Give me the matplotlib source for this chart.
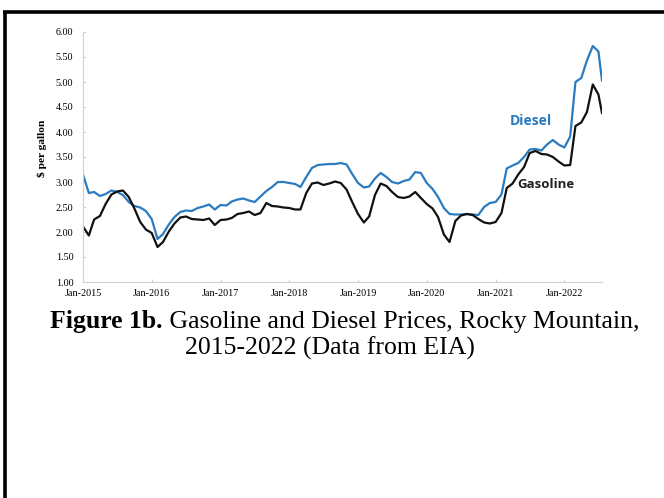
import matplotlib
matplotlib.use("Agg")
import matplotlib.pyplot as plt
import pandas as pd
from matplotlib.lines import Line2D
from matplotlib.font_manager import FontProperties

# ---- data (monthly, $ per gallon) ----
dates = list(pd.date_range("2015-01-01", "2022-07-01", freq="MS")) + [pd.Timestamp("2022-07-20")]

gasoline = [
    2.11, 1.93, 2.25, 2.32, 2.56, 2.75, 2.81, 2.83, 2.70, 2.47, 2.20, 2.05,   # 2015
    1.98, 1.70, 1.80, 2.01, 2.17, 2.29, 2.31, 2.26, 2.25, 2.24, 2.27, 2.14,   # 2016
    2.24, 2.25, 2.28, 2.36, 2.38, 2.41, 2.34, 2.38, 2.58, 2.52, 2.51, 2.49,   # 2017
    2.48, 2.45, 2.45, 2.78, 2.97, 2.99, 2.94, 2.97, 3.01, 2.98, 2.85, 2.60,   # 2018
    2.36, 2.19, 2.31, 2.74, 2.97, 2.92, 2.80, 2.70, 2.68, 2.71, 2.80, 2.68,   # 2019
    2.56, 2.47, 2.30, 1.95, 1.80, 2.22, 2.33, 2.36, 2.34, 2.26, 2.19, 2.17,   # 2020
    2.20, 2.38, 2.88, 2.97, 3.15, 3.30, 3.58, 3.62, 3.56, 3.55, 3.50, 3.41,   # 2021
    3.33, 3.34, 4.12, 4.19, 4.40, 4.95, 4.75, 4.38,                           # 2022
]
diesel = [
    3.15, 2.78, 2.80, 2.72, 2.76, 2.83, 2.80, 2.74, 2.60, 2.52, 2.49, 2.42,   # 2015
    2.26, 1.86, 1.96, 2.15, 2.30, 2.40, 2.43, 2.42, 2.48, 2.51, 2.55, 2.45,   # 2016
    2.54, 2.53, 2.61, 2.65, 2.67, 2.63, 2.60, 2.71, 2.82, 2.90, 3.00, 3.00,   # 2017
    2.98, 2.96, 2.90, 3.10, 3.28, 3.34, 3.35, 3.36, 3.36, 3.38, 3.35, 3.16,   # 2018
    2.98, 2.89, 2.91, 3.07, 3.18, 3.10, 3.00, 2.97, 3.02, 3.05, 3.20, 3.18,   # 2019
    2.98, 2.86, 2.70, 2.48, 2.36, 2.35, 2.35, 2.36, 2.35, 2.34, 2.50, 2.58,   # 2020
    2.60, 2.75, 3.27, 3.33, 3.38, 3.50, 3.65, 3.66, 3.63, 3.75, 3.84, 3.75,   # 2021
    3.69, 3.91, 5.00, 5.08, 5.43, 5.72, 5.61, 5.03,                           # 2022
]
tick_years = [2015, 2016, 2017, 2018, 2019, 2020, 2021, 2022]
tick_labels = [f"Jan-{y}" for y in tick_years]
y_ticks = [1.00, 1.50, 2.00, 2.50, 3.00, 3.50, 4.00, 4.50, 5.00, 5.50, 6.00]

BLUE = "#2b7bc0"
AXC = "#d0d0d0"
SERIF = ["Liberation Serif", "DejaVu Serif"]

fig = plt.figure(figsize=(6.64, 4.98), dpi=100)
ax = fig.add_axes([83 / 664, 1 - 282 / 498, (602 - 83) / 664, 250 / 498])

ax.plot(dates, diesel, color=BLUE, lw=1.6, solid_joinstyle="round")
ax.plot(dates, gasoline, color="#111111", lw=1.6, solid_joinstyle="round")

ax.set_ylim(1.0, 6.0)
ax.set_xlim(dates[0], dates[-1])
ax.set_yticks(y_ticks)
ax.set_yticklabels([f"{v:.2f}" for v in y_ticks], fontfamily=SERIF, fontsize=7.3)
ax.set_xticks([pd.Timestamp(f"{y}-01-01") for y in tick_years])
ax.set_xticklabels(tick_labels, fontfamily=SERIF, fontsize=7.3)
ax.tick_params(axis="both", direction="in", length=2.5, width=0.7, color=AXC)
ax.tick_params(axis="x", pad=5)
ax.tick_params(axis="y", pad=7)
for s in ["top", "right"]:
    ax.spines[s].set_visible(False)
for s in ["left", "bottom"]:
    ax.spines[s].set_color(AXC)
    ax.spines[s].set_linewidth(0.8)

fig.text(42 / 664, 1 - 148 / 498, "\\$ per gallon", rotation=90, ha="center", va="center",
         fontfamily=SERIF, fontweight="bold", fontsize=8.2)

fig.text(531 / 664, 1 - 121 / 498, "Diesel", color=BLUE, ha="center", va="center",
         fontfamily=["Open Sans", "DejaVu Sans"], fontweight="bold", fontsize=10)
fig.text(546 / 664, 1 - 184 / 498, "Gasoline", color="#222222", ha="center", va="center",
         fontfamily=["Open Sans", "DejaVu Sans"], fontweight="bold", fontsize=9.5)

# caption: bold "Figure 1b." followed by regular text, centred as a whole
cap_bold = "Figure 1b."
cap_rest = " Gasoline and Diesel Prices, Rocky Mountain,"
cap_line2 = "2015-2022 (Data from EIA)"
fp_b = FontProperties(family=SERIF, weight="bold", size=18.5)
fp_r = FontProperties(family=SERIF, size=18.5)
renderer = fig.canvas.get_renderer()
tb = fig.text(0, 0, cap_bold, fontproperties=fp_b, va="baseline")
tr = fig.text(0, 0, cap_rest, fontproperties=fp_r, va="baseline")
wb = tb.get_window_extent(renderer).width
wr = tr.get_window_extent(renderer).width
left_px = 345 - (wb + wr) / 2
ybase = 1 - 328 / 498
tb.set_position((left_px / 664, ybase))
tr.set_position(((left_px + wb) / 664, ybase))
fig.text(330 / 664, 1 - 355 / 498, cap_line2, ha="center", va="baseline", fontproperties=fp_r)

# page border lines (top and left)
fig.add_artist(Line2D([3 / 664, 1.0], [1 - 12.5 / 498, 1 - 12.5 / 498], color="black", lw=2.6,
                      transform=fig.transFigure, solid_capstyle="butt"))
fig.add_artist(Line2D([5 / 664, 5 / 664], [0, 1 - 11 / 498], color="black", lw=2.6,
                      transform=fig.transFigure, solid_capstyle="butt"))

fig.savefig("out.png", dpi=100)
